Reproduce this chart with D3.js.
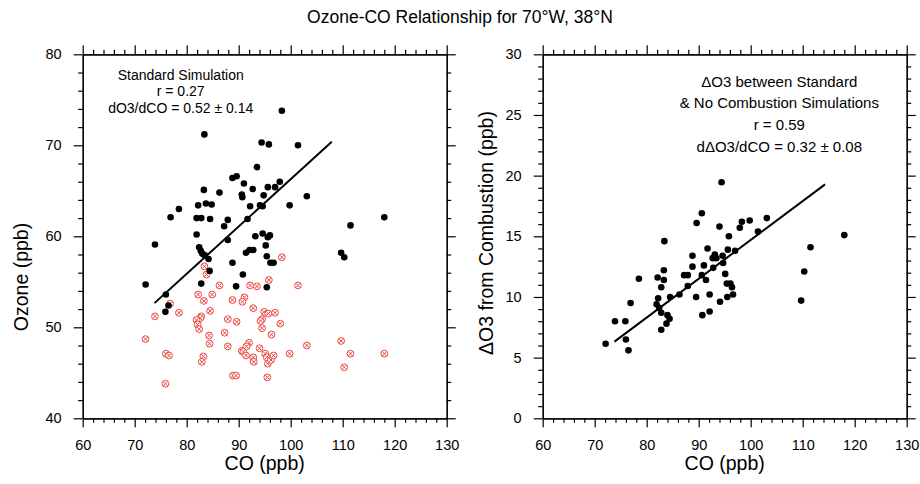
<!DOCTYPE html>
<html>
<head>
<meta charset="utf-8">
<script src="https://cdn.jsdelivr.net/npm/d3@7"></script>
<style>
  body { margin: 0; background: #fff; }
  svg { font-family: "Liberation Sans", Arial, Helvetica, sans-serif; }
  .axis path, .axis line { stroke: #000; stroke-width: 1.2; }
</style>
</head>
<body>
<div id="chart"></div>
<script>
var width = 920, height = 484;

/* CO (x) and ozone (y), standard simulation - black dots */
var stdPoints = [
  [98.3,73.8],[83.4,71.2],[94.4,70.3],[95.8,70.1],[101.4,70.0],[93.5,67.6],[88.8,66.4],[89.6,66.6],
  [91.0,65.8],[92.7,65.2],[94.8,64.5],[95.6,65.4],[97.0,65.4],[97.9,66.0],[103.1,64.4],[90.6,64.6],
  [90.7,64.3],[86.3,64.8],[83.3,65.1],[83.7,63.6],[84.8,63.5],[82.2,63.4],[81.9,62.0],[82.8,62.0],
  [84.5,61.9],[76.9,62.1],[78.5,63.0],[92.2,63.3],[94.1,63.4],[94.6,63.3],[99.8,63.4],[91.7,61.9],
  [87.9,61.8],[87.2,61.1],[81.9,60.2],[73.9,59.1],[87.9,59.6],[93.2,60.0],[94.6,60.3],[96.0,60.1],
  [95.6,59.9],[95.2,59.0],[91.4,58.2],[92.1,58.5],[92.8,58.5],[82.4,58.8],[82.7,58.4],[83.0,58.1],
  [83.5,57.9],[84.2,57.5],[84.4,56.2],[88.8,57.1],[95.4,57.8],[96.1,57.1],[96.7,57.1],[90.8,55.8],
  [82.8,54.8],[72.1,54.7],[89.5,54.5],[95.4,54.4],[76.0,53.6],[76.5,52.4],[75.9,51.7],[109.7,58.2],
  [110.3,57.7],[111.5,61.2],[118.0,62.1]
];

/* no combustion simulation - red circled crosses */
var noCombPoints = [
  [98.3,57.7],[83.4,56.7],[83.8,55.8],[95.8,55.2],[86.3,54.6],[92.2,54.6],[93.5,54.5],[101.4,54.6],
  [82.2,53.6],[83.3,52.9],[84.9,53.6],[88.8,53.0],[91.1,53.3],[90.7,52.8],[76.8,52.6],[73.9,51.2],
  [78.5,51.6],[84.5,51.8],[82.8,51.2],[82.6,51.0],[81.9,50.8],[82.1,50.3],[82.4,49.8],[84.3,49.1],
  [84.4,48.2],[87.3,49.4],[87.9,50.9],[89.6,50.6],[92.8,52.1],[94.9,51.7],[95.7,51.5],[97.0,51.6],
  [94.5,50.9],[94.2,50.7],[94.5,49.9],[98.0,50.4],[96.3,49.2],[87.9,47.9],[92.0,48.3],[91.5,47.9],
  [90.6,47.4],[90.9,47.3],[91.4,46.9],[92.8,46.7],[92.9,46.2],[94.0,47.7],[95.1,47.1],[95.4,46.7],
  [95.6,46.0],[96.2,46.4],[96.7,46.9],[99.8,47.1],[103.1,48.0],[83.2,46.8],[82.9,46.2],[76.0,47.1],
  [76.6,46.9],[72.1,48.7],[75.9,43.8],[88.9,44.7],[89.5,44.7],[95.5,44.5],[109.7,48.5],[110.3,45.6],
  [111.5,47.1],[118.0,47.1]
];

/* delta O3 between standard and no combustion */
var deltaPoints = [
  [94.4,19.45],[90.6,16.9],[89.6,16.1],[94.0,15.8],[97.9,15.7],[98.3,16.2],[99.8,16.3],[103.1,16.5],
  [101.4,15.4],[95.8,15.0],[83.4,14.6],[91.7,14.0],[95.6,13.9],[97.0,13.8],[93.1,13.5],[92.7,13.2],
  [93.4,13.2],[94.6,13.4],[88.8,13.4],[94.7,12.8],[91.0,12.6],[88.8,12.5],[92.8,12.4],[83.3,12.2],
  [82.1,11.6],[83.3,11.4],[78.5,11.5],[87.2,11.8],[87.9,11.8],[90.6,11.8],[91.4,11.4],[95.1,11.9],
  [95.4,11.1],[96.1,11.1],[96.4,10.8],[82.8,10.8],[87.9,10.9],[86.3,10.2],[84.5,10.0],[82.2,9.9],
  [89.5,10.0],[92.1,10.2],[95.5,10.0],[96.6,10.2],[81.9,9.4],[76.9,9.5],[94.1,9.6],[82.4,9.1],
  [82.8,8.7],[84.0,8.5],[84.4,8.2],[83.8,7.8],[90.7,8.5],[92.1,8.8],[82.8,7.3],[73.9,8.0],
  [75.9,8.0],[72.1,6.15],[76.0,6.5],[76.5,5.6],[109.7,9.7],[110.3,12.1],[111.5,14.1],[118.0,15.1]
];

/* regression fits: slope, intercept, x extent */
var stdFit = {slope: 0.52, intercept: 14.28, x: [73.8, 107.9]};
var deltaFit = {slope: 0.32, intercept: -17.3, x: [73.8, 114.3]};

var xTicks = [60, 70, 80, 90, 100, 110, 120, 130];
var leftYTicks = [40, 50, 60, 70, 80];
var rightYTicks = [0, 5, 10, 15, 20, 25, 30];

var leftNotes = ["Standard Simulation", "r = 0.27", "dO3/dCO = 0.52 \u00b1 0.14"];
var rightNotes = ["\u0394O3 between Standard", "& No Combustion Simulations", "r = 0.59", "d\u0394O3/dCO = 0.32 \u00b1 0.08"];

var svg = d3.select("#chart").append("svg").attr("width", width).attr("height", height);

svg.append("text")
    .attr("x", 460).attr("y", 23)
    .attr("text-anchor", "middle")
    .style("font-size", "17.5px")
    .text("Ozone-CO Relationship for 70\u00b0W, 38\u00b0N");

function range(a, b, step) {
    var out = [];
    for (var v = a; v <= b + 1e-9; v += step) out.push(+v.toFixed(4));
    return out;
}

function panel(cfg) {
    var x = d3.scaleLinear().domain([60, 130]).range([cfg.left, cfg.left + 364]);
    var y = d3.scaleLinear().domain(cfg.yDomain).range([418.3, 54.3]);
    var top = 54.3, bottom = 418.3, right = cfg.left + 364;

    var xMinor = range(60, 130, 2).filter(function(v) { return xTicks.indexOf(v) < 0; });
    var yMinor = range(cfg.yDomain[0], cfg.yDomain[1], cfg.yMinor).filter(function(v) { return cfg.yTicks.indexOf(v) < 0; });

    // minor ticks on all four sides
    var axes = [
        [d3.axisBottom(x), "translate(0," + bottom + ")", xMinor],
        [d3.axisTop(x), "translate(0," + top + ")", xMinor],
        [d3.axisLeft(y), "translate(" + cfg.left + ",0)", yMinor],
        [d3.axisRight(y), "translate(" + right + ",0)", yMinor]
    ];
    axes.forEach(function(a) {
        svg.append("g").attr("class", "axis").attr("transform", a[1])
            .call(a[0].tickValues(a[2]).tickSize(4.5).tickSizeOuter(0).tickFormat(""));
    });

    // major ticks
    svg.append("g").attr("class", "axis").attr("transform", "translate(0," + bottom + ")")
        .call(d3.axisBottom(x).tickValues(xTicks).tickSize(9).tickSizeOuter(0))
        .selectAll("text").attr("y", 32.2).attr("dy", 0).style("font-size", "14.5px");
    svg.append("g").attr("class", "axis").attr("transform", "translate(0," + top + ")")
        .call(d3.axisTop(x).tickValues(xTicks).tickSize(9).tickSizeOuter(0).tickFormat(""));
    svg.append("g").attr("class", "axis").attr("transform", "translate(" + cfg.left + ",0)")
        .call(d3.axisLeft(y).tickValues(cfg.yTicks).tickSize(9).tickPadding(12).tickSizeOuter(0))
        .selectAll("text").style("font-size", "14.5px");
    svg.append("g").attr("class", "axis").attr("transform", "translate(" + right + ",0)")
        .call(d3.axisRight(y).tickValues(cfg.yTicks).tickSize(9).tickSizeOuter(0).tickFormat(""));

    svg.selectAll(".axis text").attr("fill", "#000").style("font-family", "'Liberation Sans', Arial, sans-serif");

    // axis titles
    svg.append("text")
        .attr("x", cfg.left + 182).attr("y", 470)
        .attr("text-anchor", "middle")
        .style("font-size", "19.5px")
        .text("CO (ppb)");
    svg.append("text")
        .attr("transform", "translate(" + cfg.yTitleX + "," + cfg.yTitleY + ") rotate(-90)")
        .attr("text-anchor", "middle")
        .style("font-size", "19.5px")
        .text(cfg.yTitle);

    var g = svg.append("g");

    // red circled crosses
    if (cfg.crosses) {
        var c = g.selectAll(".cross").data(cfg.crosses).enter().append("g")
            .attr("transform", function(d) { return "translate(" + x(d[0]) + "," + y(d[1]) + ")"; })
            .attr("stroke", "#e8362e").attr("stroke-width", 0.9).attr("fill", "none");
        c.append("circle").attr("r", 3.4).attr("fill", "#fff");
        c.append("path").attr("d", "M-2.1,-2.1L2.1,2.1M-2.1,2.1L2.1,-2.1");
    }

    g.selectAll(".dot").data(cfg.dots).enter().append("circle")
        .attr("cx", function(d) { return x(d[0]); })
        .attr("cy", function(d) { return y(d[1]); })
        .attr("r", 3.3)
        .attr("fill", "#000");

    var fit = cfg.fit;
    g.append("line")
        .attr("x1", x(fit.x[0])).attr("y1", y(fit.slope * fit.x[0] + fit.intercept))
        .attr("x2", x(fit.x[1])).attr("y2", y(fit.slope * fit.x[1] + fit.intercept))
        .attr("stroke", "#000").attr("stroke-width", 2);

    // annotation block
    svg.append("g").selectAll("text").data(cfg.notes).enter().append("text")
        .attr("x", cfg.noteX)
        .attr("y", function(d, i) { return cfg.noteY + i * cfg.noteStep; })
        .attr("text-anchor", "middle")
        .style("font-size", cfg.noteSize)
        .text(function(d) { return d; });
}

panel({
    left: 82.7, yDomain: [40, 80], yTicks: leftYTicks, yMinor: 2,
    yTitle: "Ozone (ppb)", yTitleX: 28, yTitleY: 277,
    dots: stdPoints, crosses: noCombPoints, fit: stdFit,
    notes: leftNotes, noteX: 180.7, noteY: 80, noteStep: 16.3, noteSize: "14px"
});

panel({
    left: 542.7, yDomain: [0, 30], yTicks: rightYTicks, yMinor: 1,
    yTitle: "\u0394O3 from Combustion (ppb)", yTitleX: 493, yTitleY: 233,
    dots: deltaPoints, crosses: null, fit: deltaFit,
    notes: rightNotes, noteX: 779.3, noteY: 86.7, noteStep: 21.7, noteSize: "15px"
});
</script>
</body>
</html>
